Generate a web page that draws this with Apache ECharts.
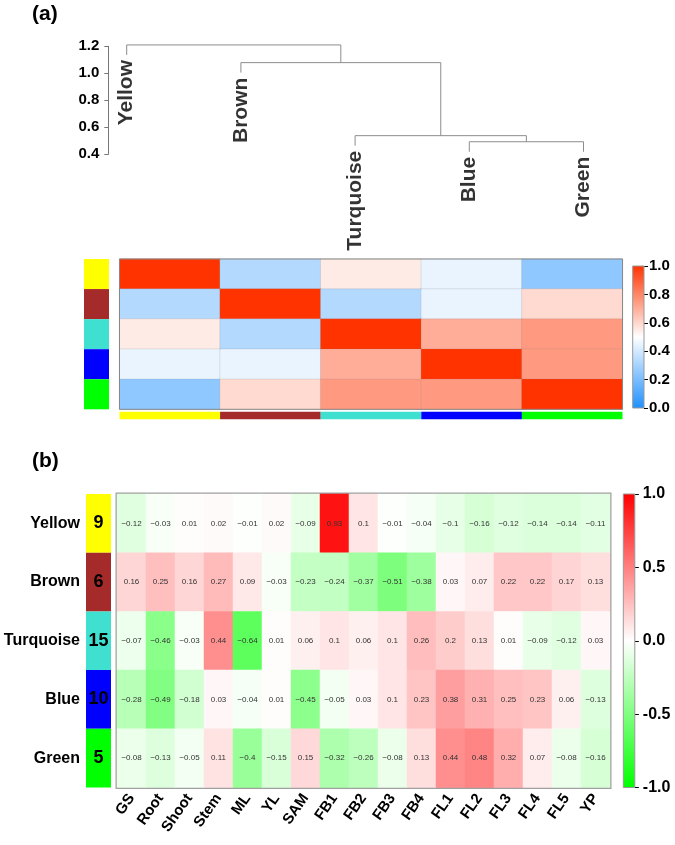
<!DOCTYPE html>
<html><head><meta charset="utf-8">
<script src="https://cdn.jsdelivr.net/npm/echarts@6/dist/echarts.min.js"></script>
<style>html,body{margin:0;padding:0;background:#fff}#c{width:675px;height:845px}</style>
</head><body><div id="c"></div><script>
// ---------- data ----------
const modules = ['Yellow', 'Brown', 'Turquoise', 'Blue', 'Green'];
const moduleColors = ['#FFFF00', '#A52A2A', '#40E0D0', '#0000FF', '#00FF00'];
const moduleSizes = [9, 6, 15, 10, 5];

// dendrogram (R hclust style merge list: negative = leaf index, positive = earlier merge)
const dendroMerge = [[-4, -5, 0.493], [-3, 1, 0.538], [-2, 2, 1.079], [-1, 3, 1.21]];
const dendroHang = 0.074;
const dendroAxis = [0.4, 1.2, 0.2];

// eigengene adjacency heatmap (a)
const adjYellow    = [1.00, 0.33, 0.55, 0.45, 0.25];
const adjBrown     = [0.33, 1.00, 0.33, 0.45, 0.59];
const adjTurquoise = [0.55, 0.33, 1.00, 0.70, 0.75];
const adjBlue      = [0.45, 0.45, 0.70, 1.00, 0.75];
const adjGreen     = [0.25, 0.59, 0.75, 0.75, 1.00];
const adjRange = [0, 1, 0.2];

// module-tissue correlation heatmap (b)
const tissues = ['GS', 'Root', 'Shoot', 'Stem', 'ML', 'YL', 'SAM', 'FB1', 'FB2', 'FB3', 'FB4', 'FL1', 'FL2', 'FL3', 'FL4', 'FL5', 'YP'];
const corYellow    = [-0.12, -0.03, 0.01, 0.02, -0.01, 0.02, -0.09, 0.93, 0.1, -0.01, -0.04, -0.1, -0.16, -0.12, -0.14, -0.14, -0.11];
const corBrown     = [0.16, 0.25, 0.16, 0.27, 0.09, -0.03, -0.23, -0.24, -0.37, -0.51, -0.38, 0.03, 0.07, 0.22, 0.22, 0.17, 0.13];
const corTurquoise = [-0.07, -0.46, -0.03, 0.44, -0.64, 0.01, 0.06, 0.1, 0.06, 0.1, 0.26, 0.2, 0.13, 0.01, -0.09, -0.12, 0.03];
const corBlue      = [-0.28, -0.49, -0.18, 0.03, -0.04, 0.01, -0.45, -0.05, 0.03, 0.1, 0.23, 0.38, 0.31, 0.25, 0.23, 0.06, -0.13];
const corGreen     = [-0.08, -0.13, -0.05, 0.11, -0.4, -0.15, 0.15, -0.32, -0.26, -0.08, 0.13, 0.44, 0.48, 0.32, 0.07, -0.08, -0.16];
const corRange = [-1, 1, 0.5];

// ---------- build ----------
const FONT = '"Liberation Sans", Arial, sans-serif';
const adjRows = [adjYellow, adjBrown, adjTurquoise, adjBlue, adjGreen];
const corRows = [corYellow, corBrown, corTurquoise, corBlue, corGreen];
const adjColors = ['#1E90FF', '#FFFFFF', '#FF3300'];
const corColors = ['#00FF00', '#FFFFFF', '#FF0000'];

const series = [];

// dendrogram segments
const mergeX = [];
const leafBottom = {};
dendroMerge.forEach(([a, b, h], k) => {
  const pos = c => {
    if (c < 0) { leafBottom[-c] = h - dendroHang; return [-c, h - dendroHang]; }
    return [mergeX[c - 1], dendroMerge[c - 1][2]];
  };
  const A = pos(a), B = pos(b);
  mergeX[k] = (A[0] + B[0]) / 2;
  series.push({
    type: 'line', xAxisIndex: 0, yAxisIndex: 0, symbol: 'none', clip: false, silent: true,
    lineStyle: { color: '#8c8c8c', width: 1 },
    data: [[A[0], A[1]], [A[0], h], [B[0], h], [B[0], B[1]]]
  });
});
series.push({
  type: 'scatter', xAxisIndex: 0, yAxisIndex: 0, symbolSize: 0.1, silent: true,
  itemStyle: { color: 'rgba(0,0,0,0)' },
  data: modules.map((m, i) => ({ name: m, value: [i + 1, leafBottom[i + 1]] })),
  label: {
    show: true, formatter: p => p.name, position: 'bottom', distance: 5,
    rotate: 90, align: 'right', verticalAlign: 'middle',
    fontFamily: FONT, fontSize: 21, fontWeight: 'bold', color: '#000'
  }
});

// heatmap (a)
const heatA = [];
adjRows.forEach((row, r) => row.forEach((v, c) => heatA.push([c, r, v])));
const heatAIndex = series.length;
series.push({
  type: 'heatmap', xAxisIndex: 1, yAxisIndex: 1, data: heatA, silent: true,
  itemStyle: { borderColor: 'rgba(130,130,130,0.35)', borderWidth: 0.5 }
});
// module colour boxes (a) left
series.push({
  type: 'bar', xAxisIndex: 2, yAxisIndex: 2, barWidth: '100%', silent: true,
  data: moduleColors.map(c => ({ value: 1, itemStyle: { color: c } }))
});
// module colour strip (a) bottom
series.push({
  type: 'bar', xAxisIndex: 3, yAxisIndex: 3, barWidth: '100%', silent: true,
  data: moduleColors.map(c => ({ value: 1, itemStyle: { color: c } }))
});
// colour bar helper
function colorBar(xi, yi, range, colors) {
  return {
    type: 'custom', xAxisIndex: xi, yAxisIndex: yi, silent: true,
    data: [[0, range[0], range[1]]],
    renderItem: (params, api) => {
      const top = api.coord([api.value(0), api.value(2)]);
      const bot = api.coord([api.value(0), api.value(1)]);
      const w = api.size([1, 0])[0];
      return {
        type: 'rect',
        shape: { x: top[0] - w / 2, y: top[1], width: w, height: bot[1] - top[1] },
        style: {
          fill: new echarts.graphic.LinearGradient(0, 0, 0, 1, [
            { offset: 0, color: colors[2] }, { offset: 0.5, color: colors[1] }, { offset: 1, color: colors[0] }
          ]),
          stroke: '#999', lineWidth: 1
        }
      };
    }
  };
}
series.push(colorBar(4, 4, adjRange, adjColors));

// heatmap (b)
const heatB = [];
corRows.forEach((row, r) => row.forEach((v, c) => heatB.push([c, r, v])));
const heatBIndex = series.length;
series.push({
  type: 'heatmap', xAxisIndex: 5, yAxisIndex: 5, data: heatB, silent: true,
  label: {
    show: true, fontFamily: FONT, fontSize: 8, color: '#333',
    formatter: p => String(p.value[2]).replace('-', '\u2212')
  }
});
// module colour boxes (b) with sizes
series.push({
  type: 'bar', xAxisIndex: 6, yAxisIndex: 6, barWidth: '100%', silent: true,
  data: moduleColors.map((c, i) => ({ value: 1, size: moduleSizes[i], itemStyle: { color: c } })),
  label: {
    show: true, position: 'inside', formatter: p => String(moduleSizes[p.dataIndex]),
    fontFamily: FONT, fontSize: 18, fontWeight: 'bold', color: '#000'
  }
});
series.push(colorBar(7, 7, corRange, corColors));

const hidden = { show: false };
const option = {
  backgroundColor: '#fff',
  animation: false,
  title: [
    { text: '(a)', left: 32, top: 4, padding: 0, textStyle: { fontFamily: FONT, fontSize: 21, fontWeight: 'bold', color: '#000' } },
    { text: '(b)', left: 32, top: 451, padding: 0, textStyle: { fontFamily: FONT, fontSize: 21, fontWeight: 'bold', color: '#000' } }
  ],
  grid: [
    { left: 126.7, top: 46.3, width: 456.8, height: 108 },           // 0 dendrogram
    { left: 119.5, top: 259, width: 503, height: 150.3, show: true, borderColor: '#888', borderWidth: 1, z: 5 }, // 1 heatmap a
    { left: 84, top: 259, width: 25, height: 150.3 },                // 2 colour boxes a
    { left: 119.5, top: 411.7, width: 503, height: 7.6 },            // 3 bottom strip a
    { left: 632.7, top: 266, width: 11.3, height: 142 },             // 4 colour bar a
    { left: 117, top: 494, width: 493, height: 293.5, show: true, borderColor: '#a0a0a0', borderWidth: 3 }, // 5 heatmap b
    { left: 86, top: 494, width: 25, height: 293.5 },                // 6 colour boxes b
    { left: 623.3, top: 494, width: 11.5, height: 293.5 }            // 7 colour bar b
  ],
  xAxis: [
    { gridIndex: 0, type: 'value', min: 1, max: modules.length, show: false },
    { gridIndex: 1, type: 'category', data: modules, show: false },
    { gridIndex: 2, type: 'value', min: 0, max: 1, show: false },
    { gridIndex: 3, type: 'category', data: modules, show: false },
    { gridIndex: 4, type: 'category', data: ['c'], show: false },
    {
      gridIndex: 5, type: 'category', data: tissues, position: 'bottom',
      axisLine: hidden, axisTick: hidden, splitLine: hidden,
      axisLabel: { interval: 0, rotate: 55, margin: 8, fontFamily: FONT, fontSize: 15, fontWeight: 'bold', color: '#000' }
    },
    { gridIndex: 6, type: 'value', min: 0, max: 1, show: false },
    { gridIndex: 7, type: 'category', data: ['c'], show: false }
  ],
  yAxis: [
    {
      gridIndex: 0, type: 'value', min: dendroAxis[0], max: dendroAxis[1], interval: dendroAxis[2], offset: 18.4,
      axisLine: { show: true, lineStyle: { color: '#777', width: 1 } },
      axisTick: { show: true, length: 4, lineStyle: { color: '#777' } },
      splitLine: hidden,
      axisLabel: { margin: 9, fontFamily: FONT, fontSize: 15, fontWeight: 'bold', color: '#000', formatter: v => v.toFixed(1) }
    },
    { gridIndex: 1, type: 'category', data: modules, inverse: true, show: false },
    { gridIndex: 2, type: 'category', data: modules, inverse: true, show: false },
    { gridIndex: 3, type: 'value', min: 0, max: 1, show: false },
    {
      gridIndex: 4, type: 'value', min: adjRange[0], max: adjRange[1], interval: adjRange[2], position: 'right',
      axisLine: hidden, splitLine: hidden,
      axisTick: { show: true, length: 4, lineStyle: { color: '#000' } },
      axisLabel: { margin: 5, fontFamily: FONT, fontSize: 15, fontWeight: 'bold', color: '#000', formatter: v => v.toFixed(1) }
    },
    { gridIndex: 5, type: 'category', data: modules, inverse: true, show: false },
    {
      gridIndex: 6, type: 'category', data: modules, inverse: true,
      axisLine: hidden, axisTick: hidden, splitLine: hidden,
      axisLabel: { margin: 6, fontFamily: FONT, fontSize: 16, fontWeight: 'bold', color: '#000' }
    },
    {
      gridIndex: 7, type: 'value', min: corRange[0], max: corRange[1], interval: corRange[2], position: 'right',
      axisLine: hidden, splitLine: hidden,
      axisTick: { show: true, length: 4, lineStyle: { color: '#000' } },
      axisLabel: { margin: 8, fontFamily: FONT, fontSize: 16, fontWeight: 'bold', color: '#000', formatter: v => v.toFixed(1) }
    }
  ],
  visualMap: [
    { type: 'continuous', show: false, seriesIndex: heatAIndex, dimension: 2, min: adjRange[0], max: adjRange[1], inRange: { color: adjColors } },
    { type: 'continuous', show: false, seriesIndex: heatBIndex, dimension: 2, min: corRange[0], max: corRange[1], inRange: { color: corColors } }
  ],
  series
};
const chart = echarts.init(document.getElementById('c'), null, { renderer: 'canvas' });
chart.setOption(option);
</script></body></html>
